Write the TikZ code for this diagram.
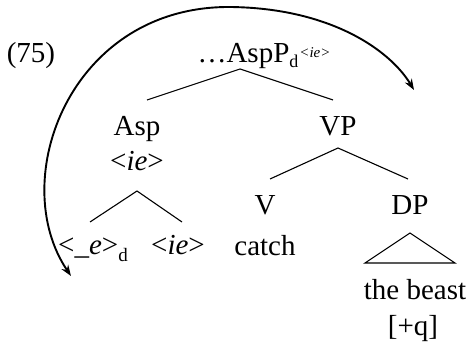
\documentclass[tikz,border=0pt]{standalone}
\usepackage{fontspec}
\setmainfont{Liberation Serif}
\usetikzlibrary{arrows.meta}
\begin{document}
\begin{tikzpicture}[x=1pt,y=-1pt,
  lbl/.style={font=\fontsize{29}{31}\selectfont, inner sep=0pt, anchor=base},
  br/.style={line width=1.1pt},
  mv/.style={line width=1.9pt, {Stealth[length=11pt,width=8pt]}-{Stealth[length=11pt,width=8pt]}}]
\useasboundingbox (0,0) rectangle (474,347);
\node[lbl] (ex) at (31,63) {(75)};
\node[lbl] (top) at (264,63) {\dots AspP\raisebox{-5pt}{\fontsize{18}{18}\selectfont d}\raisebox{5pt}{\fontsize{15}{15}\selectfont\itshape\kern1pt <ie>}};
\node[lbl] (asp) at (137,136) {Asp};
\node[lbl] (aspf) at (137,171) {<\textit{ie}>};
\node[lbl] (vp) at (338,136) {VP};
\node[lbl] (v) at (265,215) {V};
\node[lbl] (dp) at (410,215) {DP};
\node[lbl] (e) at (93,255) {<\textit{\_e}>\raisebox{-7pt}{\fontsize{19}{19}\selectfont d}};
\node[lbl] (ie) at (178,255) {<\textit{ie}>};
\node[lbl] (catch) at (265,256) {catch};
\node[lbl] (beast) at (415,300) {the beast};
\node[lbl] (q) at (413,336) {[+q]};
% branches
\coordinate (t0) at (240,69);
\coordinate (t1) at (147,100);
\coordinate (t2) at (333,100);
\coordinate (a0) at (137,191);
\coordinate (a1) at (90,222);
\coordinate (a2) at (182,222);
\coordinate (v0) at (338,148);
\coordinate (v1) at (270,179);
\coordinate (v2) at (408,179);
\coordinate (d0) at (410,233);
\coordinate (d1) at (365,263);
\coordinate (d2) at (455,263);
\draw[br] (t1) -- (t0) -- (t2);
\draw[br] (a1) -- (a0) -- (a2);
\draw[br] (v1) -- (v0) -- (v2);
\draw[br] (d0) -- (d1) -- (d2) -- cycle;
% movement arrow
\coordinate (m1) at (71,276);
\coordinate (m2) at (414,90);
\draw[mv] (m1) .. controls (6,180) and (70,6) .. (230,7) .. controls (330,8) and (390,50) .. (m2);
\end{tikzpicture}
\end{document}
